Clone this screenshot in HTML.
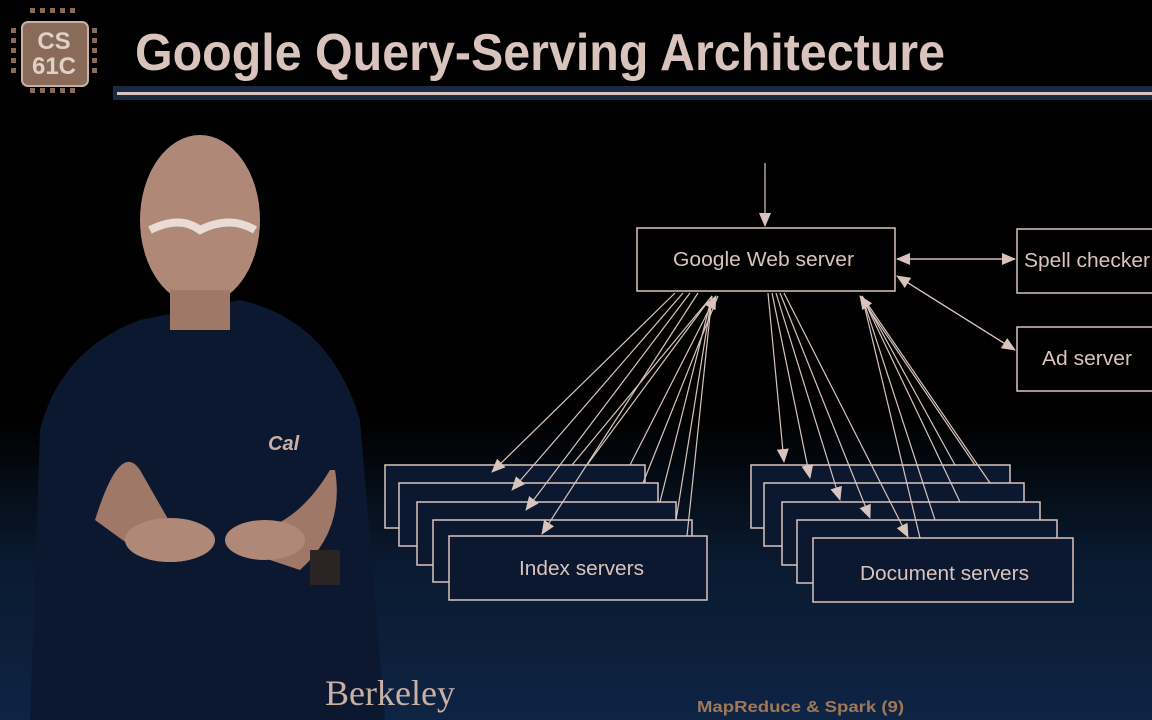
<!DOCTYPE html>
<html><head><style>
html,body{margin:0;padding:0;}
body{width:1152px;height:720px;overflow:hidden;background:linear-gradient(#000 0px,#000 420px,#0a1a30 560px,#0e2444 720px);font-family:"Liberation Sans",sans-serif;}
</style></head><body>
<svg width="1152" height="720" viewBox="0 0 1152 720" xmlns="http://www.w3.org/2000/svg" style="position:absolute;left:0;top:0">
<defs>
<marker id="b" markerWidth="14" markerHeight="12" refX="13" refY="6" orient="auto" markerUnits="userSpaceOnUse"><path d="M0,0 L14,6 L0,12 z" fill="#d8c4bc"/></marker>
</defs>
<g>
<rect x="22" y="22" width="66" height="64" rx="6" fill="#8a6a58" stroke="#c8b0a4" stroke-width="2"/>
<g fill="#8a6a58">
<rect x="30" y="8" width="5" height="5"/><rect x="40" y="8" width="5" height="5"/><rect x="50" y="8" width="5" height="5"/><rect x="60" y="8" width="5" height="5"/><rect x="70" y="8" width="5" height="5"/>
<rect x="30" y="88" width="5" height="5"/><rect x="40" y="88" width="5" height="5"/><rect x="50" y="88" width="5" height="5"/><rect x="60" y="88" width="5" height="5"/><rect x="70" y="88" width="5" height="5"/>
<rect x="11" y="28" width="5" height="5"/><rect x="11" y="38" width="5" height="5"/><rect x="11" y="48" width="5" height="5"/><rect x="11" y="58" width="5" height="5"/><rect x="11" y="68" width="5" height="5"/>
<rect x="92" y="28" width="5" height="5"/><rect x="92" y="38" width="5" height="5"/><rect x="92" y="48" width="5" height="5"/><rect x="92" y="58" width="5" height="5"/><rect x="92" y="68" width="5" height="5"/>
</g>
<text x="54" y="49" font-size="24" font-weight="bold" fill="#e0d0c8" text-anchor="middle">CS</text>
<text x="54" y="74" font-size="24" font-weight="bold" fill="#e0d0c8" text-anchor="middle">61C</text>
</g>
<text x="135" y="70" font-size="52" font-weight="bold" fill="#d8c4bc" textLength="810" lengthAdjust="spacingAndGlyphs">Google Query-Serving Architecture</text>
<rect x="113" y="86" width="1039" height="14" fill="#1a2a44"/>
<rect x="117" y="92" width="1035" height="3" fill="#d8c4bc"/>

<g>
<path d="M30,720 L40,430 Q60,350 140,320 L240,300 Q330,320 360,420 L385,720 Z" fill="#0c1830"/>
<ellipse cx="200" cy="220" rx="60" ry="85" fill="#b08878"/>
<rect x="170" y="290" width="60" height="40" fill="#a07868"/>
<path d="M150,230 Q180,215 200,230 Q230,215 255,230" stroke="#e8dcd4" stroke-width="8" fill="none"/>
<path d="M95,520 Q120,440 140,470 L180,540 L150,560 Z" fill="#a07868"/>
<path d="M330,470 Q300,520 260,530 L240,550 L300,570 Q345,530 335,470 Z" fill="#a07868"/>
<ellipse cx="170" cy="540" rx="45" ry="22" fill="#b08878"/>
<ellipse cx="265" cy="540" rx="40" ry="20" fill="#b08878"/>
<rect x="310" y="550" width="30" height="35" fill="#2a2424"/>
<text x="268" y="450" font-size="20" font-style="italic" font-weight="bold" fill="#c8b0a4">Cal</text>
</g>
<text x="325" y="705" font-size="36" font-family="Liberation Serif" fill="#c8b0a4">Berkeley</text>
<text x="697" y="712" font-size="16" font-weight="bold" fill="#a07858" textLength="207" lengthAdjust="spacingAndGlyphs">MapReduce &amp; Spark (9)</text>

<g fill="#0c1830" stroke="#d8c4bc" stroke-width="1.5">
<rect x="385" y="465" width="260" height="63"/>
<rect x="399" y="483" width="259" height="63"/>
<rect x="417" y="502" width="259" height="63"/>
<rect x="433" y="520" width="259" height="62"/>
<rect x="449" y="536" width="258" height="64"/>
<rect x="751" y="465" width="259" height="63"/>
<rect x="764" y="483" width="260" height="63"/>
<rect x="782" y="502" width="258" height="63"/>
<rect x="797" y="520" width="260" height="63"/>
<rect x="813" y="538" width="260" height="64"/>
</g>
<g fill="none" stroke="#d8c4bc" stroke-width="1.5">
<rect x="637" y="228" width="258" height="63"/>
<rect x="1017" y="229" width="150" height="64"/>
<rect x="1017" y="327" width="150" height="64"/>
</g>
<g stroke="#d8c4bc" stroke-width="1.2" fill="none">
<line x1="765" y1="163" x2="765" y2="226" marker-end="url(#b)"/>
<line x1="897" y1="259" x2="1015" y2="259" marker-end="url(#b)"/>
<line x1="1015" y1="259" x2="897" y2="259" marker-end="url(#b)"/>
<line x1="897" y1="276" x2="1015" y2="350" marker-end="url(#b)"/>
<line x1="1015" y1="350" x2="897" y2="276" marker-end="url(#b)"/>
<line x1="675" y1="293" x2="492" y2="472" marker-end="url(#b)"/>
<line x1="683" y1="293" x2="512" y2="490" marker-end="url(#b)"/>
<line x1="690" y1="293" x2="526" y2="510" marker-end="url(#b)"/>
<line x1="698" y1="293" x2="542" y2="534" marker-end="url(#b)"/>
<line x1="630" y1="465" x2="716" y2="296" marker-end="url(#b)"/>
<line x1="643" y1="483" x2="718" y2="296"/>
<line x1="660" y1="502" x2="712" y2="296"/>
<line x1="676" y1="520" x2="712" y2="296"/>
<line x1="687" y1="536" x2="712" y2="296"/>
<line x1="572" y1="465" x2="712" y2="296"/>
<line x1="587" y1="465" x2="712" y2="296"/>
<line x1="768" y1="293" x2="784" y2="462" marker-end="url(#b)"/>
<line x1="772" y1="293" x2="810" y2="478" marker-end="url(#b)"/>
<line x1="776" y1="293" x2="840" y2="500" marker-end="url(#b)"/>
<line x1="780" y1="293" x2="870" y2="518" marker-end="url(#b)"/>
<line x1="784" y1="293" x2="908" y2="537" marker-end="url(#b)"/>
<line x1="975" y1="465" x2="860" y2="296" marker-end="url(#b)"/>
<line x1="955" y1="465" x2="862" y2="296"/>
<line x1="990" y1="483" x2="862" y2="296"/>
<line x1="960" y1="502" x2="862" y2="296"/>
<line x1="935" y1="520" x2="862" y2="296"/>
<line x1="920" y1="538" x2="862" y2="296"/>
</g>
<g fill="#d8c4bc" font-size="20">
<text x="673" y="266" textLength="181" lengthAdjust="spacingAndGlyphs">Google Web server</text>
<text x="1024" y="267" textLength="126" lengthAdjust="spacingAndGlyphs">Spell checker</text>
<text x="1042" y="365" textLength="90" lengthAdjust="spacingAndGlyphs">Ad server</text>
<text x="519" y="575" textLength="125" lengthAdjust="spacingAndGlyphs">Index servers</text>
<text x="860" y="580" textLength="169" lengthAdjust="spacingAndGlyphs">Document servers</text>
</g>
</svg>
</body></html>
